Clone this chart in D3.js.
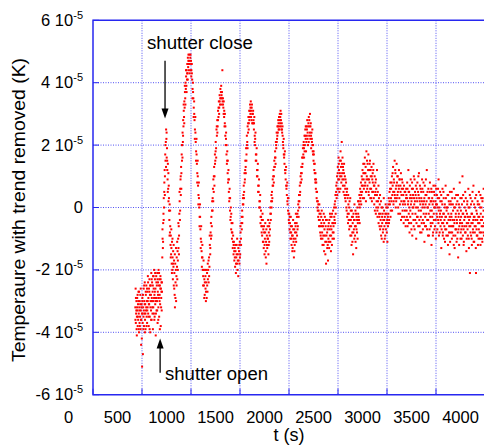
<!DOCTYPE html>
<html lang="en">
<head>
<meta charset="UTF-8">
<title>Temperature with trend removed</title>
<script src="https://d3js.org/d3.v7.min.js"></script>
<style>
  body { margin: 0; background: #fff; }
  svg { display: block; font-family: 'Liberation Sans', Arial, sans-serif; }
</style>
</head>
<body>
<svg id="chart" width="484" height="447"></svg>
<script>
// [t (s), temperature with trend removed in units of 1e-5 K]
const preShutter = [[432,-3.2],[435,-2.6],[437,-3.7],[440,-3.4],[443,-3.0],[445,-3.9],[448,-3.5],[451,-2.9],[453,-3.3],[456,-3.8],[459,-3.1],[461,-3.6],[464,-2.7],[467,-3.4],[469,-4.0],[472,-3.2],[475,-3.7],[477,-3.0],[480,-3.5],[483,-2.8],[485,-3.9],[488,-3.3],[491,-4.4],[493,-3.6],[496,-3.1],[499,-3.4],[501,-5.1],[504,-2.9],[507,-3.7],[509,-4.7],[512,-3.2],[515,-3.5],[517,-2.6],[520,-3.8],[523,-3.0],[525,-3.4],[528,-2.4],[531,-3.6],[533,-3.1],[536,-3.9],[539,-2.8],[541,-3.3],[544,-2.5],[547,-3.5],[549,-3.0],[552,-3.7],[555,-2.7],[557,-3.2],[560,-2.2],[563,-3.4],[565,-2.9],[568,-3.8],[571,-2.6],[573,-3.1],[576,-2.3],[579,-3.5],[581,-2.8],[584,-4.0],[587,-3.0],[589,-2.5],[592,-3.3],[595,-2.1],[597,-3.6],[600,-2.9],[603,-2.4],[605,-3.2],[608,-2.7],[611,-3.9],[613,-2.2],[616,-3.0],[619,-2.6],[621,-3.4],[624,-2.0],[627,-2.8],[629,-3.5],[632,-2.3],[635,-3.1],[637,-2.6],[640,-4.1],[643,-2.9],[645,-2.2],[648,-3.3],[651,-2.5],[653,-3.0],[656,-2.1],[659,-3.7],[661,-2.7],[664,-2.4],[667,-3.2],[669,-2.0],[672,-2.9],[675,-3.5],[677,-2.3],[680,-2.8],[683,-2.5],[685,-3.1],[688,-2.2],[691,-3.8],[693,-2.6],[696,-2.9],[699,-2.4],[701,-3.3],[704,-2.7],
[433,-3.6],[438,-2.9],[442,-3.3],[447,-4.1],[450,-3.2],[455,-2.8],[458,-3.5],[462,-3.0],[466,-3.9],[470,-2.7],[474,-3.3],[478,-3.8],[482,-3.1],[487,-2.6],[490,-3.6],[494,-3.2],[498,-4.2],[503,-3.0],[506,-3.4],[510,-2.8],[514,-3.9],[519,-3.3],[522,-2.5],[527,-3.1],[530,-4.0],[535,-3.4],[538,-2.7],[543,-3.2],[546,-3.8],[551,-2.6],[554,-3.3],[559,-3.0],[562,-2.4],[567,-3.5],[570,-3.1],[575,-2.7],[578,-3.9],[583,-2.5],[586,-3.2],[591,-2.8],[594,-3.6],[599,-2.3],[602,-3.0],[607,-3.4],[610,-2.5],[615,-3.2],[618,-2.2],[623,-2.9],[626,-3.6],[631,-2.7],[634,-2.1],[639,-3.0],[642,-3.4],[647,-2.4],[650,-2.9],[655,-3.3],[658,-2.3],[663,-2.8],[666,-3.6],[671,-2.5],[674,-2.1],[679,-3.0],[682,-3.9],[687,-2.6],[690,-2.3],[695,-3.2],[698,-2.7],[703,-2.4]];

const ringing = [[707,-1.6],[710,-1.0],[713,-1.3],[716,-0.5],[719,-0.2],[722,0.3],[725,0.0],[728,0.8],[731,1.2],[734,1.0],[737,1.7],[740,1.5],[743,2.1],[746,2.5],
[749,2.2],[752,1.6],[755,1.9],[758,1.2],[761,0.9],[764,1.4],[767,0.6],[770,0.2],[773,0.7],[776,-0.1],[779,-0.4],[782,0.1],[785,-0.8],[788,-0.6],[791,-1.2],[794,-0.9],[797,-1.5],[800,-1.3],[803,-1.8],[806,-1.1],[809,-2.0],[812,-1.6],[815,-2.3],[818,-1.4],[821,-1.9],[824,-2.5],[827,-1.7],[830,-2.1],[833,-2.8],[836,-3.2],[839,-1.8],[842,-2.4],[845,-2.0],[848,-3.0],[851,-2.2],[854,-1.6],
[857,-1.9],[860,-2.3],[863,-1.4],[866,-1.7],[869,-1.0],[872,-1.3],[875,-0.6],[878,-0.9],[881,-0.2],[884,0.2],[887,-0.4],[890,0.6],[893,0.9],[896,0.4],[899,1.3],[902,1.1],[905,1.7],[908,1.5],[911,2.0],[914,2.4],[917,2.1],[920,2.8],[923,2.6],[926,3.1],[929,2.9],[932,3.4],[935,3.2],[938,3.7],[941,3.5],[944,4.0],[947,3.8],[950,4.2],[953,3.9],[956,4.4],[959,4.1],[962,4.6],[965,4.3],[968,4.8],[971,4.5],[974,4.9],[977,4.6],[981,4.7],[985,4.9],[989,4.6],[993,4.8],[997,4.4],
[1000,4.7],[1004,4.4],[1008,4.6],[1012,4.1],[1016,3.8],[1020,4.0],[1024,3.5],[1028,3.2],[1032,3.4],[1036,2.8],[1040,2.5],[1044,2.9],[1048,2.1],[1052,1.8],[1056,2.2],[1060,1.4],[1064,1.1],[1068,1.5],[1072,0.7],[1076,0.4],[1080,0.8],[1084,0.0],[1088,-0.3],[1092,0.1],[1096,-0.7],[1100,-1.0],[1104,-0.6],[1108,-1.4],[1112,-1.6],[1116,-1.2],[1120,-2.0],[1124,-2.2],[1128,-1.7],[1132,-2.5],[1136,-2.3],[1140,-2.8],[1144,-2.0],[1148,-2.6],[1152,-3.0],[1156,-2.4],[1160,-2.9],[1164,-2.1],[1168,-2.7],[1172,-2.3],
[1176,-2.0],[1180,-2.4],[1184,-1.6],[1188,-1.9],[1192,-1.2],[1196,-1.5],[1200,-0.8],[1204,-1.0],[1208,-0.3],[1212,-0.6],[1216,0.2],[1220,-0.1],[1224,0.6],[1228,0.9],[1232,0.5],[1236,1.3],[1240,1.0],[1244,1.7],[1248,1.5],[1252,2.1],[1256,1.9],[1260,2.5],[1264,2.3],[1268,2.8],[1272,2.6],[1276,3.1],[1280,2.9],[1284,3.4],[1288,3.2],[1292,3.6],[1296,3.3],[1300,3.8],[1304,3.5],[1308,3.9],[1312,3.6],[1316,3.7],[1320,4.4],[1322,3.4],
[1326,3.5],[1330,3.2],[1334,3.4],[1338,2.9],[1342,2.6],[1346,3.0],[1350,2.3],[1354,2.0],[1358,2.4],[1362,1.7],[1366,1.4],[1370,1.8],[1374,1.1],[1378,0.8],[1382,1.2],[1386,0.5],[1390,0.2],[1394,0.6],[1398,-0.1],[1402,-0.4],[1406,0.0],[1410,-0.7],[1414,-0.5],[1418,-1.0],[1422,-0.8],[1426,-1.3],[1430,-0.9],[1434,-1.5],[1438,-1.1],[1442,-1.7],[1446,-1.3],[1450,-1.9],[1454,-1.4],[1458,-2.1],[1462,-1.6],[1466,-1.2],[1470,-1.8],[1474,-2.0],[1478,-1.5],[1482,-2.2],[1486,-1.7],
[1490,-1.4],[1494,-1.8],[1498,-1.1],[1502,-1.5],[1506,-0.8],[1510,-1.0],[1514,-0.5],[1518,-0.7],[1522,-0.1],[1526,-0.3],[1530,0.3],[1534,0.1],[1538,0.7],[1542,0.5],[1546,1.1],[1550,0.9],[1554,1.5],[1558,1.3],[1562,1.9],[1566,1.7],[1570,2.3],[1574,2.1],[1578,2.6],[1582,2.4],[1586,2.9],[1590,2.7],[1594,3.1],[1598,2.9],[1602,3.3],[1606,3.0],[1610,3.4],[1614,3.1],[1618,2.8],[1622,3.3],[1626,3.0],[1630,2.7],
[1634,3.1],[1638,2.8],[1642,2.5],[1646,2.9],[1650,2.3],[1654,2.0],[1658,2.4],[1662,1.7],[1666,1.5],[1670,1.9],[1674,1.2],[1678,1.0],[1682,1.4],[1686,0.7],[1690,0.5],[1694,0.9],[1698,0.2],[1702,0.0],[1706,0.4],[1710,-0.3],[1714,-0.1],[1718,-0.6],[1722,-0.4],[1726,-0.9],[1730,-0.2],[1734,-1.1],[1738,-0.7],[1742,-1.3],[1746,-0.8],[1750,-1.5],[1754,-1.0],[1758,-0.5],[1762,-1.4],[1766,-1.1],[1770,-1.8],[1774,-0.9],[1778,-1.3],[1782,-0.6],[1786,-1.0],[1790,-1.5],
[1794,-0.8],[1798,-1.1],[1802,-0.5],[1806,-0.7],[1810,-0.2],[1814,-0.4],[1818,0.2],[1822,0.0],[1826,0.5],[1830,0.3],[1834,0.9],[1838,0.7],[1842,1.2],[1846,1.0],[1850,1.5],[1854,1.3],[1858,1.8],[1862,1.6],[1866,2.1],[1870,1.9],[1874,2.4],[1878,2.2],[1882,2.6],[1886,2.4],[1890,2.8],[1894,2.5],[1898,2.9],[1902,2.6],[1906,3.0],[1910,2.7],[1914,3.1],[1918,2.8],[1922,2.5],
[1926,2.7],[1930,2.4],[1934,2.6],[1938,2.1],[1942,1.9],[1946,2.2],[1950,1.6],[1954,1.4],[1958,1.8],[1962,1.1],[1966,0.9],[1970,1.3],[1974,0.6],[1978,0.4],[1982,0.8],[1986,0.1],[1990,-0.1],[1994,0.3],[1998,-0.4],[2002,-0.2],[2006,-0.7],[2010,-0.5],[2014,-1.0],[2018,-0.3],[2022,-0.8],[2026,-1.2],[2030,-0.6],[2034,-1.4],[2038,-0.9],[2042,-0.4],[2046,-1.1],[2050,-1.6],[2054,-0.7],[2058,-1.2],[2062,-0.5],[2066,-1.0],[2070,-0.2],[2074,-0.8],
[2078,-0.5],[2082,-0.9],[2086,-0.2],[2090,-0.6],[2094,0.1],[2098,-0.3],[2102,0.4],[2106,0.2],[2110,0.7],[2114,0.5],[2118,1.0],[2122,0.8],[2126,1.3],[2130,1.1],[2134,1.6],[2138,1.4],[2142,1.9],[2146,1.7],[2150,2.1],[2154,1.6],[2158,2.3],[2162,2.0],[2166,2.5],[2170,2.2],[2174,1.8],[2178,2.6],[2182,2.3],[2186,2.8],[2190,2.4],[2194,2.0],[2198,2.7],[2202,2.9],[2206,2.3],[2210,2.6],[2214,3.0],[2218,2.2],[2222,2.7],[2226,1.9],
[2230,2.4],[2234,2.1],[2238,2.5],[2242,1.8],[2246,2.0],[2250,1.5],[2254,1.7],[2258,1.2],[2262,1.4],[2266,0.9],[2270,1.1],[2274,0.6],[2278,0.8],[2282,0.3],[2286,0.5],[2290,0.0],[2294,0.2],[2298,-0.3],[2302,-0.1],[2306,-0.6],[2310,0.1],[2314,-0.4],[2318,-0.8],[2322,-0.2],[2326,-1.0],[2330,-0.5],[2334,-0.1],[2338,-0.8],[2342,-1.2],[2346,-0.4],[2350,-0.9],[2354,-0.2],[2358,-1.4],[2362,-0.7],[2366,-0.3],[2370,-1.1],[2374,-0.6],[2378,-1.8],[2382,-0.9],[2386,-0.4],[2390,-1.3],[2394,-0.7],[2398,-1.7],
[709,-0.7],[715,-1.1],[721,-0.4],[727,0.5],[733,0.4],[739,2.0],[745,1.3],
[751,2.4],[757,1.5],[763,0.5],[769,1.1],[775,0.3],[781,-0.9],[787,-0.1],[793,-1.6],[799,-0.7],[805,-2.1],[811,-1.0],[817,-1.8],[823,-1.2],[829,-2.6],[835,-1.5],[841,-2.9],[847,-1.3],[853,-2.5],
[859,-1.1],[865,-2.0],[871,-0.5],[877,-1.5],[883,0.5],[889,-0.1],[895,1.0],[901,0.6],[907,2.0],[913,1.6],[919,2.3],[925,3.3],[931,2.7],[937,3.9],[943,3.3],[949,4.4],[955,3.7],[961,4.3],[967,4.1],[973,4.7],[979,4.4],[987,4.3],[995,4.9],
[1003,4.2],[1009,4.3],[1015,3.5],[1021,3.7],[1027,2.9],[1033,3.0],[1039,2.2],[1045,2.4],[1051,1.5],[1057,1.7],[1063,0.8],[1069,1.0],[1075,0.1],[1081,0.3],[1087,-0.6],[1093,-0.3],[1099,-1.3],[1105,-1.1],[1111,-1.9],[1117,-1.6],[1123,-2.5],[1129,-2.0],[1135,-2.9],[1141,-2.4],[1147,-2.2],[1153,-2.7],[1159,-2.0],[1165,-2.5],[1171,-1.8],
[1179,-1.7],[1185,-2.2],[1191,-0.9],[1197,-1.3],[1203,-0.5],[1209,-0.9],[1215,-0.1],[1221,0.3],[1227,0.2],[1233,1.0],[1239,0.7],[1245,1.4],[1251,1.8],[1257,1.6],[1263,2.6],[1269,2.4],[1275,2.8],[1281,3.2],[1287,3.0],[1293,3.4],[1299,3.5],[1305,3.7],[1311,3.3],[1317,3.5],
[1327,3.3],[1333,3.0],[1339,3.1],[1345,2.7],[1351,2.6],[1357,2.2],[1363,2.0],[1369,1.5],[1375,1.5],[1381,0.9],[1387,0.9],[1393,0.3],[1399,0.3],[1405,-0.3],[1411,-0.2],[1417,-0.8],[1423,-0.5],[1429,-1.1],[1435,-1.2],[1441,-1.4],[1447,-1.6],[1453,-1.2],[1459,-1.8],[1465,-1.5],[1471,-1.0],[1477,-1.7],[1483,-1.3],
[1493,-1.2],[1499,-1.6],[1505,-0.6],[1511,-1.2],[1517,-0.3],[1523,-0.5],[1529,0.1],[1535,0.4],[1541,0.3],[1547,0.8],[1553,1.2],[1559,1.1],[1565,1.5],[1571,2.0],[1577,1.9],[1583,2.7],[1589,2.5],[1595,2.8],[1601,3.1],[1607,3.2],[1613,2.9],[1619,3.2],[1625,2.7],[1631,3.0],
[1637,2.7],[1643,2.7],[1649,2.1],[1655,2.2],[1661,1.5],[1667,1.7],[1673,1.0],[1679,1.2],[1685,0.5],[1691,0.7],[1697,0.0],[1703,0.2],[1709,-0.5],[1715,-0.3],[1721,-0.8],[1727,-0.6],[1733,-0.4],[1739,-1.1],[1745,-0.6],[1751,-1.2],[1757,-0.8],[1763,-1.6],[1769,-0.7],[1775,-1.2],[1781,-1.0],[1787,-0.4],[1793,-1.2],
[1797,-0.6],[1803,-0.9],[1809,0.0],[1815,-0.2],[1821,0.4],[1827,0.2],[1833,0.7],[1839,1.0],[1845,0.8],[1851,1.3],[1857,1.6],[1863,1.4],[1869,2.0],[1875,2.1],[1881,2.3],[1887,2.6],[1893,2.7],[1899,2.5],[1905,2.8],[1911,2.9],[1917,2.6],[1921,3.0],
[1929,2.5],[1935,2.3],[1941,2.0],[1947,1.7],[1953,1.7],[1959,1.2],[1965,1.2],[1971,0.7],[1977,0.7],[1983,0.2],[1989,0.3],[1995,-0.2],[2001,-0.5],[2007,-0.3],[2013,-0.8],[2019,-0.6],[2025,-1.0],[2031,-0.9],[2037,-1.3],[2043,-0.7],[2049,-1.0],[2055,-1.4],[2061,-0.8],[2067,-0.6],[2073,-1.1],
[2081,-0.3],[2087,-0.7],[2093,-0.1],[2099,0.2],[2105,0.0],[2111,0.4],[2117,0.8],[2123,1.1],[2129,0.9],[2135,1.3],[2141,1.6],[2147,2.0],[2153,1.9],[2159,1.8],[2165,2.3],[2171,2.6],[2177,2.1],[2183,2.5],[2189,2.2],[2195,2.6],[2201,2.1],[2207,2.8],[2213,2.4],[2219,2.6],[2225,2.3],
[2233,2.2],[2239,2.0],[2245,1.7],[2251,1.8],[2257,1.4],[2263,1.1],[2269,0.8],[2275,0.9],[2281,0.5],[2287,0.2],[2293,-0.1],[2299,0.1],[2305,-0.4],[2311,-0.2],[2317,-0.6],[2323,-0.9],[2329,-0.3],[2335,-0.6],[2341,-1.0],[2347,-0.6],[2353,-1.2],[2359,-0.5],[2365,-0.9],[2371,-1.5],[2377,-0.4],[2383,-1.1],[2389,-0.8],[2395,-1.2]];

const decay = [[2402,-1.0],[2406,-0.5],[2410,-1.3],[2414,-0.7],[2418,-0.2],[2422,-1.1],[2426,-0.6],[2430,-0.9],[2434,-0.3],[2438,-1.2],[2442,-0.5],[2446,-0.8],[2450,-0.1],[2454,-0.6],[2458,-1.0],[2462,-0.3],[2466,0.1],[2470,-0.5],[2474,0.4],[2478,0.0],[2482,0.7],[2486,0.3],[2490,1.0],[2494,0.6],[2498,1.3],[2502,0.9],[2506,1.6],[2510,1.2],[2514,0.5],[2518,1.5],[2522,1.0],[2526,1.8],[2530,1.3],[2534,0.8],[2538,2.1],[2542,1.1],[2546,1.6],[2550,0.7],[2554,1.2],
[2558,0.9],[2562,1.4],[2566,0.4],[2570,1.0],[2574,0.6],[2578,0.2],[2582,0.8],[2586,0.0],[2590,0.5],[2594,-0.3],[2598,0.3],[2602,-0.5],[2606,0.1],[2610,-0.2],[2614,-0.7],[2618,0.2],[2622,-0.4],[2626,-0.9],[2630,-0.1],[2634,-0.6],[2638,-1.2],[2642,-0.3],[2646,-0.8],[2650,-0.5],[2654,-1.5],[2658,-0.2],[2662,-0.7],[2666,-1.0],[2670,-0.4],[2674,-0.9],[2678,-0.1],[2682,-0.6],[2686,-1.3],[2690,-0.3],[2694,-0.8],[2698,0.0],[2702,-0.5],
[2706,-0.2],[2710,0.2],[2714,-0.4],[2718,0.4],[2722,0.0],[2726,0.6],[2730,0.2],[2734,0.8],[2738,0.4],[2742,1.0],[2746,0.5],[2750,1.2],[2754,0.7],[2758,1.4],[2762,0.9],[2766,0.3],[2770,1.1],[2774,1.6],[2778,0.8],[2782,1.3],[2786,0.5],[2790,1.8],[2794,1.0],[2798,0.6],[2802,1.4],[2806,0.9],[2810,1.7],[2814,0.4],[2818,1.2],[2822,0.8],[2826,1.5],[2830,0.3],[2834,1.0],[2838,0.6],[2842,1.3],[2846,0.2],[2850,0.9],
[2854,1.1],[2858,0.5],[2862,1.4],[2866,0.7],[2870,0.1],[2874,1.0],[2878,0.4],[2882,0.8],[2886,-0.2],[2890,0.6],[2894,0.2],[2898,1.2],[2902,-0.1],[2906,0.5],[2910,0.0],[2914,-0.5],[2918,0.3],[2922,-0.3],[2926,0.1],[2930,-0.7],[2934,-0.2],[2938,0.2],[2942,-0.6],[2946,-1.0],[2950,-0.3],[2954,0.0],[2958,-0.8],[2962,-0.4],[2966,-1.1],[2970,-0.1],[2974,-0.6],[2978,-0.3],[2982,-0.9],[2986,0.1],[2990,-0.5],[2994,-0.2],[2998,-0.8],[3002,-0.4],[3006,0.0],[3010,-0.6],
[3014,-0.2],[3018,0.3],[3022,-0.4],[3026,0.5],[3030,0.1],[3034,0.8],[3038,-0.1],[3042,0.6],[3046,0.2],[3050,1.0],[3054,0.4],[3058,0.7],[3062,1.3],[3066,0.1],[3070,0.9],[3074,0.5],[3078,1.5],[3082,0.3],[3086,1.1],[3090,0.6],[3094,0.2],[3098,1.4],[3102,0.8],[3106,0.4],[3110,1.0],[3114,0.0],[3118,0.7],[3122,1.2],[3126,0.3],[3130,0.9],[3134,-0.2],[3138,0.5],[3142,1.1],[3146,0.2],[3150,0.6],[3154,-0.3],[3158,0.8],[3162,0.1],[3166,0.4],[3170,-0.5],[3174,0.7],[3178,0.2],[3182,-0.1],[3186,0.5],[3190,-0.6],[3194,0.3],
[2401,-0.6],[2407,-1.1],[2412,-0.4],[2417,-0.9],[2423,-0.3],[2428,-1.4],[2433,-0.7],[2439,-0.2],[2444,-1.0],[2449,-0.5],[2455,-0.8],[2460,0.0],[2465,-0.4],[2471,0.2],[2476,-0.2],[2481,0.5],[2487,0.8],[2492,0.4],[2497,1.1],[2503,0.6],[2508,1.4],[2513,0.9],[2519,1.1],[2524,0.6],[2529,1.5],[2535,1.0],[2540,1.4],[2545,0.9],[2551,1.3],[2556,0.5],[2561,1.1],[2567,0.7],[2572,0.3],[2577,0.9],[2583,0.4],[2588,-0.1],[2593,0.6],[2599,-0.2],[2604,0.4],[2609,-0.4],[2615,0.0],[2620,-0.6],[2625,0.3],[2631,-0.4],[2636,-0.9],[2641,-0.1],[2647,-1.1],[2652,-0.3],[2657,-0.8],[2663,-0.4],[2668,0.1],[2673,-0.6],[2679,-1.1],[2684,-0.2],[2689,-0.7],[2695,-0.4],[2700,-1.0],[2705,0.2],[2711,-0.3],[2716,0.1],[2721,-0.5],[2727,0.3],[2732,0.5],[2737,0.1],[2743,0.7],[2748,0.9],[2753,0.3],[2759,1.1],[2764,0.6],[2769,1.4],[2775,0.7],[2780,1.1],[2785,0.2],[2791,0.9],[2796,1.5],[2801,0.7],[2807,1.2],[2812,0.5],[2817,0.9],[2823,1.4],[2828,0.6],[2833,1.2],[2839,0.3],[2844,1.0],[2849,0.5],[2855,0.8],[2860,1.2],[2865,0.3],[2871,0.7],[2876,-0.1],[2881,0.5],[2887,0.9],[2892,0.0],[2897,0.4],[2903,-0.3],[2908,0.2],[2913,0.7],[2919,-0.2],[2924,-0.6],[2929,0.4],[2935,-0.4],[2940,-0.9],[2945,0.0],[2951,-0.5],[2956,-0.2],[2961,-0.7],[2967,0.3],[2972,-0.4],[2977,-1.0],[2983,-0.2],[2988,-0.7],[2993,0.0],[2999,-0.5],[3004,-1.1],[3009,-0.3],[3015,0.1],[3020,-0.5],[3025,0.2],[3031,0.6],[3036,-0.3],[3041,0.3],[3047,0.8],[3052,-0.1],[3057,1.1],[3063,0.5],[3068,0.2],[3073,0.8],[3079,0.4],[3084,1.2],[3089,0.0],[3095,0.7],[3100,0.3],[3105,1.0],[3111,0.5],[3116,-0.2],[3121,0.6],[3127,0.9],[3132,0.1],[3137,0.7],[3143,-0.4],[3148,0.4],[3153,0.9],[3159,-0.1],[3164,0.6],[3169,0.2],[3175,-0.3],[3180,0.5],[3185,0.1],[3191,-0.4],[3196,0.6]];

const settled = [[3198,0.4],[3202,-0.3],[3206,0.8],[3210,-0.6],[3214,0.1],[3218,1.2],[3222,-0.2],[3226,0.5],[3230,-0.8],[3234,0.3],
[3238,-0.1],[3242,0.9],[3246,-0.5],[3250,0.2],[3254,0.6],[3258,-0.9],[3262,0.0],[3266,0.4],[3270,-0.4],[3274,1.0],
[3278,0.1],[3282,-0.7],[3286,0.5],[3290,-0.2],[3294,0.7],[3298,-1.0],[3302,0.3],[3306,-0.3],[3310,0.8],[3314,0.0],
[3318,-0.6],[3322,0.4],[3326,1.1],[3330,-0.4],[3334,0.2],[3338,-0.8],[3342,0.6],[3346,-0.1],[3350,0.3],[3354,-0.5],
[3358,0.9],[3362,0.0],[3366,-0.7],[3370,0.5],[3374,-0.2],[3378,0.2],[3382,-1.1],[3386,0.7],[3390,-0.3],[3394,0.1],
[3398,-0.6],[3402,0.4],[3406,1.2],[3410,-0.4],[3414,0.0],[3418,-0.9],[3422,0.6],[3426,-0.2],[3430,0.3],[3434,-0.7],
[3438,0.8],[3442,-0.1],[3446,-0.5],[3450,0.2],[3454,-1.2],[3458,0.5],[3462,-0.3],[3466,0.1],[3470,-0.8],[3474,0.7],
[3478,-0.4],[3482,0.0],[3486,0.4],[3490,-0.6],[3494,0.2],[3498,-1.0],[3502,0.6],[3506,-0.2],[3510,0.1],[3514,-0.7],
[3518,0.3],[3522,-0.4],[3526,0.9],[3530,-0.9],[3534,0.0],[3538,-0.3],[3542,0.5],[3546,-0.6],[3550,-0.1],[3554,-1.3],
[3558,0.2],[3562,-0.5],[3566,0.6],[3570,-0.8],[3574,-0.2],[3578,0.3],[3582,-1.0],[3586,-0.4],[3590,0.1],[3594,-0.7],
[3598,0.7],[3602,-0.3],[3606,-0.9],[3610,0.0],[3614,-0.5],[3618,0.4],[3622,-1.2],[3626,-0.2],[3630,0.2],[3634,-0.6],
[3638,-1.5],[3642,0.5],[3646,-0.4],[3650,-0.8],[3654,0.1],[3658,-0.3],[3662,-1.0],[3666,0.3],[3670,-0.6],[3674,-0.1],
[3678,-0.9],[3682,0.6],[3686,-0.4],[3690,-1.3],[3694,0.0],[3698,-0.7],[3702,-0.2],[3706,0.4],[3710,-1.1],[3714,-0.5],
[3718,0.2],[3722,-0.8],[3726,-1.6],[3730,-0.3],[3734,0.1],[3738,-0.6],[3742,0.8],[3746,-0.4],[3750,-1.0],[3754,-0.1],
[3758,-0.7],[3762,0.3],[3766,-0.5],[3770,1.0],[3774,-0.9],[3778,-0.2],[3782,-1.2],[3786,0.2],[3790,-0.6],[3794,-0.3],
[3798,0.5],[3802,-0.8],[3806,-0.1],[3810,-1.4],[3814,-0.5],[3818,0.1],[3822,-0.7],[3826,-0.3],[3830,0.6],[3834,-1.0],
[3838,-0.4],[3842,0.0],[3846,-2.1],[3850,-0.6],[3854,0.3],[3858,-0.9],[3862,-0.2],[3866,-1.2],[3870,0.2],[3874,-0.5],
[3878,-0.8],[3882,0.7],[3886,-0.3],[3890,-1.1],[3894,-0.6],[3898,0.0],[3902,-0.4],[3906,-1.3],[3910,0.4],[3914,-0.7],
[3918,-0.2],[3922,-0.9],[3926,0.1],[3930,-0.5],[3934,-1.0],[3938,0.5],[3942,-0.3],[3946,-0.8],[3950,0.0],[3954,-1.2],
[3958,-0.4],[3962,0.3],[3966,-0.6],[3970,-1.0],[3974,0.2],[3978,-0.3],[3982,-0.8],[3986,0.6],[3990,-0.5],
[3200,-0.1],[3205,0.3],[3209,0.6],[3213,-0.4],[3217,0.2],[3221,0.5],[3224,-0.5],[3228,0.0],[3233,0.7],[3237,-0.3],
[3240,0.4],[3244,0.1],[3249,-0.7],[3253,0.3],[3256,0.8],[3260,-0.2],[3265,0.6],[3269,0.0],[3272,-0.6],[3276,0.3],
[3281,0.9],[3285,0.2],[3288,-0.4],[3292,0.4],[3297,0.0],[3301,-0.5],[3304,0.6],[3308,0.2],[3313,-0.3],[3317,0.5],
[3320,1.0],[3324,-0.1],[3329,0.3],[3333,-0.6],[3336,0.7],[3340,0.1],[3345,-0.3],[3349,0.5],[3352,-0.8],[3356,0.2],
[3361,0.6],[3365,-0.4],[3368,0.1],[3372,0.8],[3377,-0.5],[3381,0.3],[3384,0.0],[3388,-0.6],[3393,0.4],[3397,0.9],
[3400,-0.2],[3404,0.2],[3409,-0.7],[3413,0.5],[3416,0.0],[3420,-0.4],[3425,0.3],[3429,-0.9],[3432,0.1],[3436,0.5],
[3441,-0.3],[3445,0.2],[3448,-0.6],[3452,0.6],[3457,-0.1],[3461,0.3],[3464,-0.5],[3468,-0.9],[3473,0.2],[3477,-0.2],
[3480,0.5],[3484,-0.7],[3489,0.0],[3493,0.7],[3496,-0.4],[3500,0.1],[3505,-0.8],[3509,0.4],[3512,-0.3],[3516,0.0],
[3521,0.6],[3525,-0.5],[3528,-0.1],[3532,0.3],[3537,-0.8],[3541,-0.2],[3544,0.2],[3548,-0.4],[3553,0.4],[3557,-0.7],
[3560,-0.3],[3564,0.1],[3569,-0.9],[3573,-0.5],[3576,0.5],[3580,-0.2],[3585,-0.6],[3589,0.0],[3592,-1.1],[3596,-0.3],
[3601,0.3],[3605,-0.7],[3608,-0.1],[3612,-0.5],[3617,0.0],[3621,-0.9],[3624,0.4],[3628,-0.4],[3633,-0.8],[3637,0.1],
[3640,-0.3],[3644,-1.1],[3649,0.2],[3653,-0.6],[3656,-0.2],[3660,0.5],[3665,-0.8],[3669,-0.4],[3672,0.1],[3676,-0.6],
[3681,-1.2],[3685,0.0],[3688,-0.5],[3692,0.3],[3697,-0.9],[3701,-0.3],[3704,-0.7],[3708,0.1],[3713,-0.4],[3717,-1.0],
[3720,-0.1],[3724,0.4],[3729,-0.7],[3733,-0.2],[3736,-1.2],[3740,0.0],[3745,-0.5],[3749,0.3],[3752,-0.8],[3756,-0.3],
[3761,-1.0],[3765,0.1],[3768,-0.6],[3772,-0.2],[3777,0.4],[3781,-0.7],[3784,-1.1],[3788,-0.4],[3793,0.0],[3797,-0.8],
[3800,-0.3],[3804,0.3],[3809,-0.6],[3813,-1.0],[3816,-0.2],[3820,0.2],[3825,-0.9],[3829,-0.5],[3832,0.0],[3836,-1.3],
[3841,-0.6],[3845,0.4],[3848,-0.3],[3852,-0.8],[3857,0.1],[3861,-0.5],[3864,-1.0],[3868,-0.2],[3873,0.5],[3877,-0.7],
[3880,-0.4],[3884,-1.1],[3889,0.1],[3893,-0.3],[3896,-0.8],[3900,0.3],[3905,-0.6],[3908,-2.1],[3912,-0.1],[3916,-0.9],
[3921,-0.4],[3925,0.2],[3928,-1.2],[3932,-0.3],[3937,-0.7],[3941,0.1],[3944,-0.5],[3948,-1.0],[3953,0.4],[3957,-0.2],
[3960,-0.8],[3964,0.0],[3969,-0.4],[3973,-1.1],[3976,0.3],[3980,-0.6],[3985,-0.1],[3989,-0.9]];

const xTicks = [0, 500, 1000, 1500, 2000, 2500, 3000, 3500, 4000];
const yTicks = [-6, -4, -2, 0, 2, 4, 6];   // x 1e-5 K

const svg = d3.select("#chart");
svg.append("rect").attr("width", 484).attr("height", 447).attr("fill", "#fff");

const x = d3.scaleLinear().domain([0, 4000]).range([93, 485]);
const y = d3.scaleLinear().domain([-6, 6]).range([394.7, 20.3]);
const blue = "#2727f0";

// grid
svg.append("g").selectAll("line").data(xTicks.filter(d => d > 0 && d < 4000)).join("line")
  .attr("x1", d => x(d)).attr("x2", d => x(d))
  .attr("y1", y(6)).attr("y2", y(-6))
  .attr("stroke", blue).attr("stroke-dasharray", "1,1.5").attr("stroke-opacity", 0.8);
svg.append("g").selectAll("line").data(yTicks.filter(d => d > -6 && d < 6)).join("line")
  .attr("x1", x(0)).attr("x2", 485)
  .attr("y1", d => y(d)).attr("y2", d => y(d))
  .attr("stroke", blue).attr("stroke-dasharray", "1,1.5").attr("stroke-opacity", 0.8);

// small inward ticks
svg.append("g").selectAll("line").data(xTicks).join("line")
  .attr("x1", d => x(d)).attr("x2", d => x(d))
  .attr("y1", y(-6)).attr("y2", y(-6) - 6)
  .attr("stroke", blue);
svg.append("g").selectAll("line").data(yTicks).join("line")
  .attr("x1", x(0)).attr("x2", x(0) + 6)
  .attr("y1", d => y(d)).attr("y2", d => y(d))
  .attr("stroke", blue);

// frame
svg.append("path")
  .attr("d", `M${x(4000)},${y(6)}H${x(0)}V${y(-6)}H${x(4000)}`)
  .attr("fill", "none").attr("stroke", blue).attr("stroke-width", 1.5);

// points
const all = preShutter.concat(ringing, decay, settled);
svg.append("g").selectAll("rect").data(all).join("rect")
  .attr("x", d => x(d[0]) - 1).attr("y", d => y(d[1]) - 1)
  .attr("width", 2).attr("height", 2).attr("fill", "#f00");

// x tick labels (drawn half a step left of their tick, as in the original)
const half = (x(500) - x(0)) / 2;
svg.append("g").selectAll("text").data(xTicks).join("text")
  .attr("x", d => x(d) - half).attr("y", 423)
  .attr("text-anchor", "middle").attr("font-size", 16.5).attr("fill", "#000")
  .text(d => d);

// y tick labels
const yl = svg.append("g").selectAll("text").data(yTicks).join("text")
  .attr("x", 83).attr("y", d => y(d) + 5.5)
  .attr("text-anchor", "end").attr("font-size", 16.5).attr("fill", "#000");
yl.each(function(d) {
  const t = d3.select(this);
  if (d === 0) { t.text("0"); return; }
  t.append("tspan").text(d + " 10");
  t.append("tspan").attr("dy", -7).attr("font-size", 11).text("-5");
});

// axis titles
svg.append("text").attr("x", x(2000)).attr("y", 441)
  .attr("text-anchor", "middle").attr("font-size", 18).text("t (s)");
svg.append("text")
  .attr("transform", `translate(25,${y(0) + 2.5}) rotate(-90)`)
  .attr("text-anchor", "middle").attr("font-size", 17.5)
  .attr("textLength", 304).attr("lengthAdjust", "spacingAndGlyphs")
  .text("Temperaure with trend removed (K)");

// annotations
const ann = svg.append("g").attr("fill", "#000");
function arrow(t, v0, v1) {
  const x0 = x(t), ya = y(v0), yb = y(v1);
  const dir = yb > ya ? 1 : -1;
  ann.append("line").attr("x1", x0).attr("x2", x0).attr("y1", ya).attr("y2", yb - dir * 8)
    .attr("stroke", "#000").attr("stroke-width", 1.3);
  ann.append("path").attr("d", `M${x0},${yb}L${x0 - 3.5},${yb - dir * 10}L${x0 + 3.5},${yb - dir * 10}Z`);
}
ann.append("text").attr("x", x(550)).attr("y", y(5.07)).attr("font-size", 18)
  .attr("textLength", 106).attr("lengthAdjust", "spacingAndGlyphs").text("shutter close");
arrow(735, 4.7, 2.85);
ann.append("text").attr("x", x(735)).attr("y", y(-5.53)).attr("font-size", 18)
  .attr("textLength", 103).attr("lengthAdjust", "spacingAndGlyphs").text("shutter open");
arrow(685, -5.3, -4.2);
</script>
</body>
</html>
